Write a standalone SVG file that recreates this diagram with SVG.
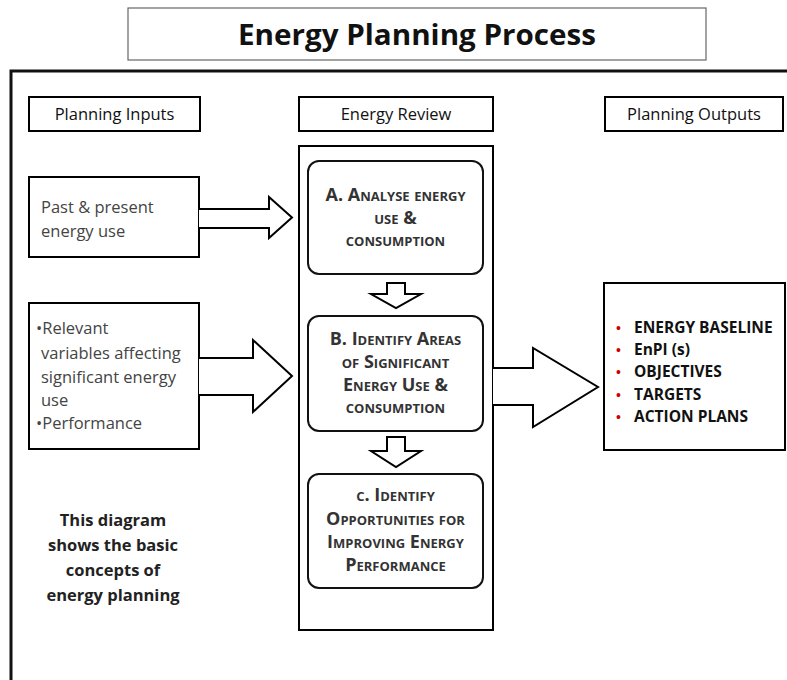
<svg xmlns="http://www.w3.org/2000/svg" width="787" height="680" viewBox="0 0 787 680">
<style>
  .box{fill:#fff;stroke:#000;stroke-width:2}
  .rbox{fill:#fff;stroke:#111;stroke-width:2}
  .arrow{fill:#fff;stroke:#000;stroke-width:2;stroke-linejoin:miter}
  .hdr{font-family:"Open Sans","Liberation Sans",sans-serif;font-size:16.5px;fill:#111;text-anchor:middle}
  .inp{font-family:"Open Sans","Liberation Sans",sans-serif;font-size:16.5px;fill:#444}
  .sc{font-family:"Open Sans","Liberation Sans",sans-serif;font-size:18px;font-weight:bold;font-variant:small-caps;fill:#333;text-anchor:middle}
  .out{font-family:"Open Sans","Liberation Sans",sans-serif;font-size:15.5px;font-weight:bold;fill:#111}
  .bul{font-family:"Liberation Sans",sans-serif;font-size:14px;fill:#d00000}
  .note{font-family:"Open Sans","Liberation Sans",sans-serif;font-size:16.5px;font-weight:bold;fill:#222;text-anchor:middle}
</style>
<rect width="787" height="680" fill="#fff"/>
<g id="title">
  <rect x="128" y="8" width="578" height="52" fill="#fff" stroke="#666" stroke-width="1.2"/>
  <text x="417" y="45" font-family="Open Sans, Liberation Sans, sans-serif" font-size="28" font-weight="bold" fill="#111" text-anchor="middle" textLength="358" lengthAdjust="spacingAndGlyphs">Energy Planning Process</text>
</g>
<g id="frame">
  <path d="M 11 684 V 71 H 792" fill="none" stroke="#111" stroke-width="3"/>
</g>
<g id="hdr-inputs">
  <rect class="box" x="29" y="97" width="171" height="34"/>
  <text class="hdr" x="114.5" y="120">Planning Inputs</text>
</g>
<g id="hdr-review">
  <rect class="box" x="299" y="97" width="194" height="34"/>
  <text class="hdr" x="396" y="120">Energy Review</text>
</g>
<g id="hdr-outputs">
  <rect class="box" x="605" y="97" width="178" height="34"/>
  <text class="hdr" x="694" y="120">Planning Outputs</text>
</g>
<g id="review">
  <rect class="box" x="299" y="146" width="194" height="484"/>
</g>
<g id="input-past">
  <rect class="box" x="29" y="177" width="170" height="80"/>
  <text class="inp" x="41" y="213">Past &amp; present</text>
  <text class="inp" x="41" y="237">energy use</text>
</g>
<g id="input-vars">
  <rect class="box" x="29" y="303" width="170" height="146"/>
  <text class="inp" x="36" y="334">•Relevant</text>
  <text class="inp" x="41" y="359">variables affecting</text>
  <text class="inp" x="41" y="383">significant energy</text>
  <text class="inp" x="41" y="406">use</text>
  <text class="inp" x="36" y="429">•Performance</text>
</g>
<g id="step-a">
  <rect class="rbox" x="308" y="161" width="175" height="113" rx="11"/>
  <text class="sc" x="395.5" y="201">A. Analyse energy</text>
  <text class="sc" x="395.5" y="224">use &amp;</text>
  <text class="sc" x="395.5" y="246">consumption</text>
</g>
<g id="step-b">
  <rect class="rbox" x="308" y="316" width="175" height="115" rx="11"/>
  <text class="sc" x="395.5" y="345">B. Identify Areas</text>
  <text class="sc" x="395.5" y="368">of Significant</text>
  <text class="sc" x="395.5" y="391">Energy Use &amp;</text>
  <text class="sc" x="395.5" y="413">consumption</text>
</g>
<g id="step-c">
  <rect class="rbox" x="308" y="474" width="175" height="114" rx="11"/>
  <text class="sc" x="395.5" y="501">c. Identify</text>
  <text class="sc" x="395.5" y="525">Opportunities for</text>
  <text class="sc" x="395.5" y="548">Improving Energy</text>
  <text class="sc" x="395.5" y="571">Performance</text>
</g>
<g id="outputs">
  <rect class="box" x="604" y="283" width="181" height="167"/>
  <text class="bul" x="616" y="333">•</text>
  <text class="out" x="634" y="333">ENERGY BASELINE</text>
  <text class="bul" x="616" y="355">•</text>
  <text class="out" x="634" y="355">EnPI (s)</text>
  <text class="bul" x="616" y="377">•</text>
  <text class="out" x="634" y="377">OBJECTIVES</text>
  <text class="bul" x="616" y="400">•</text>
  <text class="out" x="634" y="400">TARGETS</text>
  <text class="bul" x="616" y="422">•</text>
  <text class="out" x="634" y="422">ACTION PLANS</text>
</g>
<g id="note">
  <text class="note" x="113" y="526">This diagram</text>
  <text class="note" x="113" y="551">shows the basic</text>
  <text class="note" x="113" y="576">concepts of</text>
  <text class="note" x="113" y="601">energy planning</text>
</g>
<g id="connectors">
  <path class="arrow" d="M 199 209 H 269 V 197 L 292 217.5 L 269 238 V 228 H 199"/>
  <path class="arrow" d="M 199 358 H 253 V 340 L 292 376 L 253 412 V 395 H 199"/>
  <path class="arrow" d="M 493 368 H 533 V 348 L 598 387 L 533 427 V 405 H 493"/>
  <path class="arrow" d="M 387 283 H 405 V 294 H 421 L 396 308 L 371 294 H 387 Z"/>
  <path class="arrow" d="M 387 437 H 405 V 451 H 421 L 396 467 L 371 451 H 387 Z"/>
</g>
</svg>
